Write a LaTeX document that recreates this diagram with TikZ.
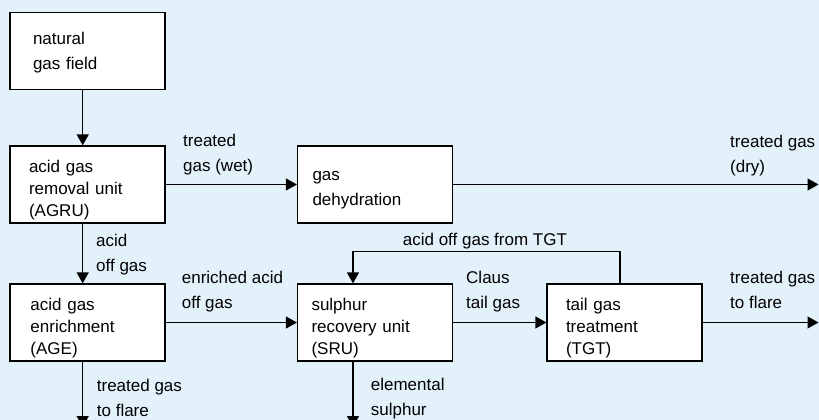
\documentclass[tikz,border=0pt]{standalone}
\usepackage{fontspec}
\setmainfont{Liberation Sans}
\usetikzlibrary{arrows.meta}

\definecolor{panelblue}{RGB}{227,241,251}

\begin{document}
\begin{tikzpicture}[x=1pt, y=-1pt]
   \tikzstyle{unit}=[draw, fill=white, line width=1.2pt, minimum width=155pt, minimum height=77pt, align=left, inner ysep=0pt, text height=23pt, font=\fontsize{17}{22}\selectfont]
   \tikzstyle{flowlabel}=[anchor=base west, inner sep=0pt, align=left, font=\fontsize{17}{25}\selectfont]
   \tikzstyle{flow}=[line width=1.2pt, -{Triangle[length=11pt, width=12pt]}]

\fill[panelblue] (0,0) rectangle (819,420);
\useasboundingbox (0,0) rectangle (819,420);

\node[unit, inner xsep=23pt, text width=109pt, text height=16pt, font=\fontsize{17}{25}\selectfont] (field) at (87.5,51) {natural\\gas field};
\node[unit, inner xsep=19pt, text width=117pt] (agru) at (87.5,184.5) {acid gas\\removal unit\\(AGRU)};
\node[unit, inner xsep=20.5pt, text width=114pt] (age) at (87.5,322.5) {acid gas\\enrichment\\(AGE)};
\node[unit, inner xsep=15pt, text width=125pt, text height=21pt, font=\fontsize{17}{25}\selectfont] (dehyd) at (375,184.5) {gas\\dehydration};
\node[unit, inner xsep=14pt, text width=127pt] (sru) at (375,322.5) {sulphur\\recovery unit\\(SRU)};
\node[unit, inner xsep=19pt, text width=117pt] (tgt) at (624.5,322.5) {tail gas\\treatment\\(TGT)};

\coordinate (dryout) at (818.5,184.5);
\coordinate (flareout) at (818.5,322.5);
\coordinate (ageout) at (82.7,427);
\coordinate (sulphurout) at (353,427);

\draw[flow] ([xshift=-4.8pt]field.south) -- ([xshift=-4.8pt]agru.north);
\draw[flow] ([xshift=-4.8pt]agru.south) -- ([xshift=-4.8pt]age.north);
\draw[flow] ([xshift=-4.8pt]age.south) -- (ageout);
\draw[flow] (agru.east) -- (dehyd.west);
\draw[flow] (dehyd.east) -- (dryout);
\draw[flow] (age.east) -- (sru.west);
\draw[flow] (sru.east) -- (tgt.west);
\draw[flow] (tgt.east) -- (flareout);
\draw[flow] ([xshift=-22pt]sru.south) -- (sulphurout);
\draw[flow] ([xshift=-4.5pt]tgt.north) -- ++(0,-32) -| ([xshift=-22pt]sru.north);

\node[flowlabel] (wetlabel) at (183,171.7) {treated\\gas (wet)};
\node[flowlabel] (acidlabel) at (96,271.7) {acid\\off gas};
\node[flowlabel] (enrichlabel) at (181.7,308.3) {enriched acid\\off gas};
\node[flowlabel] (returnlabel) at (402.7,245) {acid off gas from TGT};
\node[flowlabel] (clauslabel) at (466,308.3) {Claus\\tail gas};
\node[flowlabel] (drylabel) at (730,172) {treated gas\\(dry)};
\node[flowlabel] (flarelabel) at (730,308.3) {treated gas\\to flare};
\node[flowlabel] (agelabel) at (96.7,416.7) {treated gas\\to flare};
\node[flowlabel] (sulphurlabel) at (370.7,415.5) {elemental\\sulphur};

\end{tikzpicture}
\end{document}
